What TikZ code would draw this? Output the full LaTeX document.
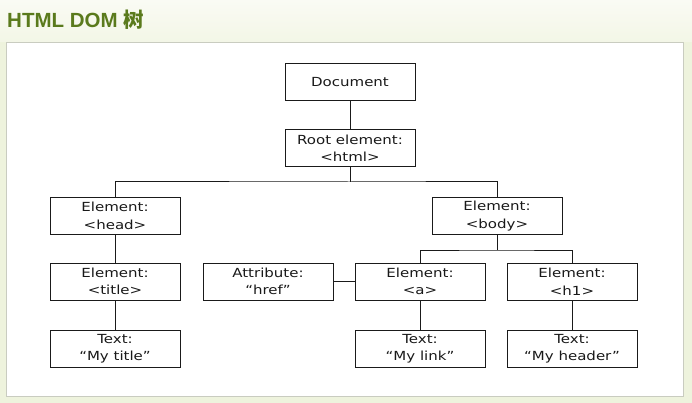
\documentclass[tikz,border=0pt]{standalone}
\usepackage{fontspec}
\setmainfont{DejaVu Sans}
\newfontfamily\boxfont[FakeStretch=1.2]{DejaVu Sans}
\newfontfamily\titlefont{Liberation Sans}
\newfontfamily\cjkfont{Noto Sans CJK SC}
\definecolor{bgout}{HTML}{EEF3DD}
\definecolor{bgtop}{HTML}{FAFBF4}
\definecolor{titlegreen}{HTML}{5A7A1C}
\definecolor{panelborder}{HTML}{C9CCC0}
\definecolor{linecol}{HTML}{1A1A1A}
\begin{document}
\begin{tikzpicture}[x=1pt,y=-1pt,
  dbox/.style={draw=linecol, line width=1pt, fill=white, minimum width=130pt, minimum height=37pt,
    inner sep=0pt, align=center, font=\boxfont\fontsize{12.5}{17.5}\selectfont, text=black!90},
  conn/.style={draw=linecol, line width=1pt}]
\useasboundingbox (0,0) rectangle (692,403);
\fill[bgout] (0,0) rectangle (692,403);
\shade[top color=bgtop, bottom color=bgout!60!bgtop] (0,0) rectangle (692,42);
\fill[white] (6,42) rectangle (683,396);
\draw[panelborder, line width=0.8pt] (6,42) rectangle (683,396);
\node[anchor=base west, inner sep=0pt, text=titlegreen, font=\titlefont\bfseries\fontsize{20.5}{23}\selectfont] (title) at (7,27.5) {HTML DOM {\cjkfont\bfseries 树}};
% nodes
\node[dbox] (doc) at (350,82) {Document};
\node[dbox] (root) at (350,148.5) {Root element:\\<html>};
\node[dbox] (head) at (115,216) {Element:\\<head>};
\node[dbox] (body) at (497,216) {Element:\\<body>};
\node[dbox] (titleel) at (115,281.5) {Element:\\<title>};
\node[dbox] (attr) at (268,281.5) {Attribute:\\“href”};
\node[dbox] (a) at (420,281.5) {Element:\\<a>};
\node[dbox] (h1) at (572,281.5) {Element:\\<h1>};
\node[dbox] (t1) at (115,348.5) {Text:\\“My title”};
\node[dbox] (t2) at (420,348.5) {Text:\\“My link”};
\node[dbox] (t3) at (572,348.5) {Text:\\“My header”};
\coordinate (rj) at (350,182);
\coordinate (bj) at (497,250);
% connectors
\draw[conn] (doc.south) -- (root.north);
\draw[conn] (root.south) -- (rj);
\draw[conn] (head.north) |- (rj) -| (body.north);
\draw[conn] (body.south) -- (bj);
\draw[conn] (a.north) |- (bj) -| (h1.north);
\draw[conn] (head.south) -- (titleel.north);
\draw[conn] (attr.east) -- (a.west);
\draw[conn] (titleel.south) -- (t1.north);
\draw[conn] (a.south) -- (t2.north);
\draw[conn] (h1.south) -- (t3.north);
\end{tikzpicture}
\end{document}
